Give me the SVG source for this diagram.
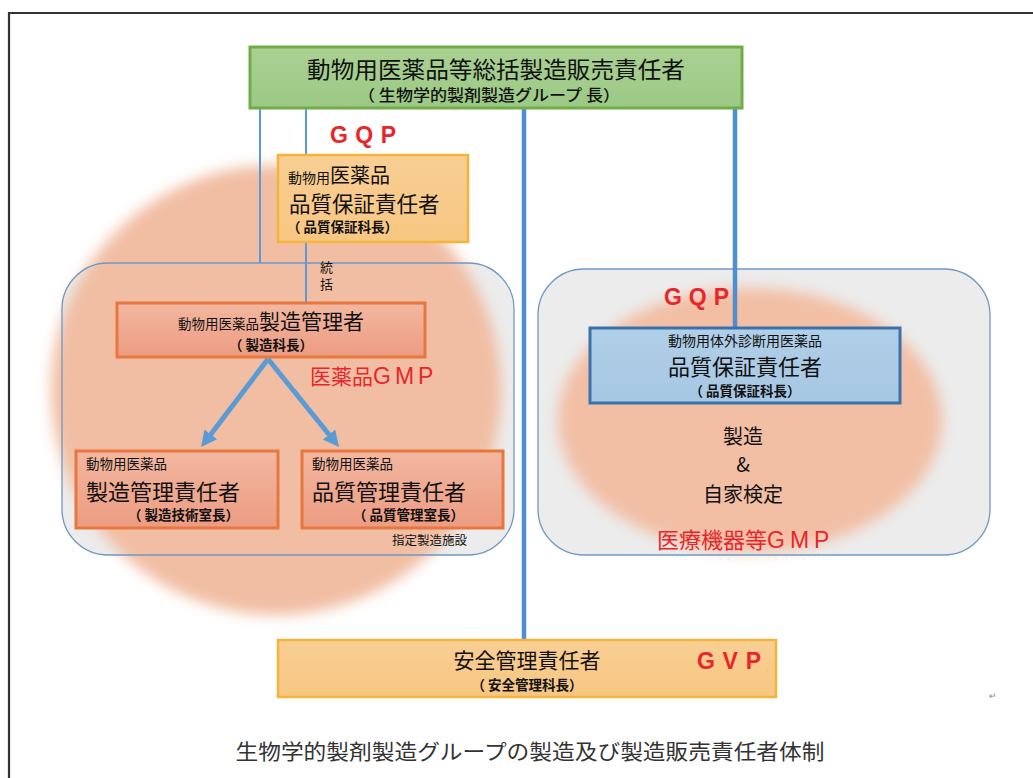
<svg xmlns="http://www.w3.org/2000/svg" width="1033" height="778" viewBox="0 0 1033 778">
<defs>
<style>
text{font-family:"Noto Sans CJK JP","Noto Sans",sans-serif;fill:#111}
.red{font-family:"Liberation Sans",Arial,sans-serif;fill:#e8262b;font-weight:bold}
.gmp{font-family:"Liberation Sans",Arial,sans-serif;fill:#e8262b}
.sub{font-size:13.5px;font-weight:bold}
.thin{stroke:#5b9bd5;stroke-width:2;fill:none}
.thick{stroke:#4f8fd0;stroke-width:4.5;fill:none}
.panel{fill:none;stroke:#7098c4;stroke-width:1.3}
.salmon{fill:url(#gS);stroke:#e8773f;stroke-width:3}
.orange{fill:url(#gO);stroke:#f3b43a;stroke-width:2.5}
</style>
<linearGradient id="gS" x1="0" y1="0" x2="0" y2="1"><stop offset="0" stop-color="#f3b7a0"/><stop offset="1" stop-color="#ec9c82"/></linearGradient>
<linearGradient id="gO" x1="0" y1="0" x2="0" y2="1"><stop offset="0" stop-color="#f9cf94"/><stop offset="1" stop-color="#f7c682"/></linearGradient>
<linearGradient id="gG" x1="0" y1="0" x2="0" y2="1"><stop offset="0" stop-color="#aad193"/><stop offset="1" stop-color="#9cc985"/></linearGradient>
<linearGradient id="gB" x1="0" y1="0" x2="0" y2="1"><stop offset="0" stop-color="#b0cfe8"/><stop offset="1" stop-color="#a6c7e3"/></linearGradient>
<filter id="blur" x="-20%" y="-20%" width="140%" height="140%"><feGaussianBlur stdDeviation="7"/></filter>
<marker id="ah" viewBox="0 0 10 10" refX="6" refY="5" markerWidth="3.2" markerHeight="3.2" orient="auto" markerUnits="strokeWidth"><path d="M0,0 L10,5 L0,10 z" fill="#5b9bd5"/></marker>
</defs>
<rect width="1033" height="778" fill="#fff"/>
<path d="M9,778 V13 H1033" fill="none" stroke="#333" stroke-width="2.2"/>

<g id="panel-left-bg"><rect x="62" y="263" width="452" height="292" rx="46" fill="#ececec"/></g>
<g id="panel-right-bg"><rect x="538" y="269" width="452" height="286" rx="46" fill="#ececec"/></g>
<ellipse cx="276" cy="390" rx="225" ry="225" fill="#f1bea3" filter="url(#blur)"/>
<ellipse cx="750" cy="420" rx="192" ry="132" fill="#f2bfa5" filter="url(#blur)"/>
<g id="panel-left"><rect class="panel" x="62" y="263" width="452" height="292" rx="46"/><text x="392" y="545" font-size="12.5">指定製造施設</text></g>
<g id="panel-right"><rect class="panel" x="538" y="269" width="452" height="286" rx="46"/></g>

<g id="connectors">
<line class="thin" x1="260" y1="108" x2="260" y2="263"/>
<line class="thin" x1="306" y1="108" x2="306" y2="155"/>
<line class="thin" x1="306" y1="242" x2="306" y2="303"/>
<line class="thick" x1="524" y1="108" x2="524" y2="640"/>
<line class="thick" x1="735" y1="108" x2="735" y2="328"/>
<line x1="268" y1="359" x2="205" y2="442" stroke="#5b9bd5" stroke-width="5" marker-end="url(#ah)"/>
<line x1="268" y1="359" x2="335" y2="442" stroke="#5b9bd5" stroke-width="5" marker-end="url(#ah)"/>
<text x="320" y="272" font-size="13">統</text>
<text x="320" y="289" font-size="13">括</text>
</g>

<g id="n-top">
<rect x="250" y="47" width="492" height="61" fill="url(#gG)" stroke="#70ad47" stroke-width="3"/>
<text x="496" y="78" font-size="23" text-anchor="middle" textLength="378" lengthAdjust="spacingAndGlyphs">動物用医薬品等総括製造販売責任者</text>
<text x="489" y="101" font-size="15.5" font-weight="500" text-anchor="middle" textLength="262" lengthAdjust="spacingAndGlyphs">（ 生物学的製剤製造グループ 長）</text>
</g>

<text class="red" x="330" y="143" font-size="23" textLength="66" lengthAdjust="spacing">GQP</text>

<g id="n-gqp">
<rect class="orange" x="278" y="155" width="190" height="87"/>
<text x="288" y="183"><tspan font-size="14">動物用</tspan><tspan font-size="20">医薬品</tspan></text>
<text x="289" y="212" font-size="21.5">品質保証責任者</text>
<text class="sub" x="287" y="232">（ 品質保証科長）</text>
</g>

<g id="n-mfg-mgr">
<rect class="salmon" x="117" y="303" width="308" height="54"/>
<text x="271" y="329" text-anchor="middle"><tspan font-size="13.5">動物用医薬品</tspan><tspan font-size="21">製造管理者</tspan></text>
<text class="sub" x="271" y="350" text-anchor="middle">（ 製造科長）</text>
</g>
<text x="310" y="384" font-size="21" style="fill:#e8262b"><tspan>医薬品</tspan><tspan class="gmp" font-size="23" letter-spacing="4">GMP</tspan></text>

<g id="n-mfg-resp">
<rect class="salmon" x="76" y="451" width="202" height="77"/>
<text x="86" y="469" font-size="13.5">動物用医薬品</text>
<text x="86" y="500" font-size="22">製造管理責任者</text>
<text class="sub" x="128" y="520">（ 製造技術室長）</text>
</g>

<g id="n-qc-resp">
<rect class="salmon" x="302" y="451" width="201" height="77"/>
<text x="312" y="469" font-size="13.5">動物用医薬品</text>
<text x="312" y="500" font-size="22">品質管理責任者</text>
<text class="sub" x="353" y="520">（ 品質管理室長）</text>
</g>

<text class="red" x="664" y="305" font-size="23" textLength="65" lengthAdjust="spacing">GQP</text>

<g id="n-ivd-qa">
<rect x="590" y="328" width="310" height="75" fill="url(#gB)" stroke="#3c72ab" stroke-width="3"/>
<text x="745" y="346" font-size="14" text-anchor="middle">動物用体外診断用医薬品</text>
<text x="745" y="375" font-size="22" text-anchor="middle">品質保証責任者</text>
<text class="sub" x="745" y="396" text-anchor="middle">（ 品質保証科長）</text>
</g>

<g id="n-mfg-test">
<text x="743" y="444" font-size="20" text-anchor="middle">製造</text>
<text x="743" y="472" font-size="20" text-anchor="middle">&amp;</text>
<text x="743" y="502" font-size="20" text-anchor="middle">自家検定</text>
</g>
<text x="657" y="548" font-size="22" style="fill:#e8262b"><tspan>医療機器等</tspan><tspan class="gmp" font-size="23" letter-spacing="5">GMP</tspan></text>

<g id="n-safety">
<rect class="orange" x="278" y="640" width="498" height="57"/>
<text x="527" y="668" font-size="21" text-anchor="middle">安全管理責任者</text>
<text class="sub" x="527" y="690" text-anchor="middle">（ 安全管理科長）</text>
<text class="red" x="697" y="669" font-size="23" textLength="64" lengthAdjust="spacing">GVP</text>
</g>

<text x="993" y="699" font-size="9" style="fill:#888" text-anchor="middle">↵</text>
<text x="530" y="759" font-size="21" style="fill:#333" text-anchor="middle" textLength="589" lengthAdjust="spacingAndGlyphs">生物学的製剤製造グループの製造及び製造販売責任者体制</text>
</svg>
